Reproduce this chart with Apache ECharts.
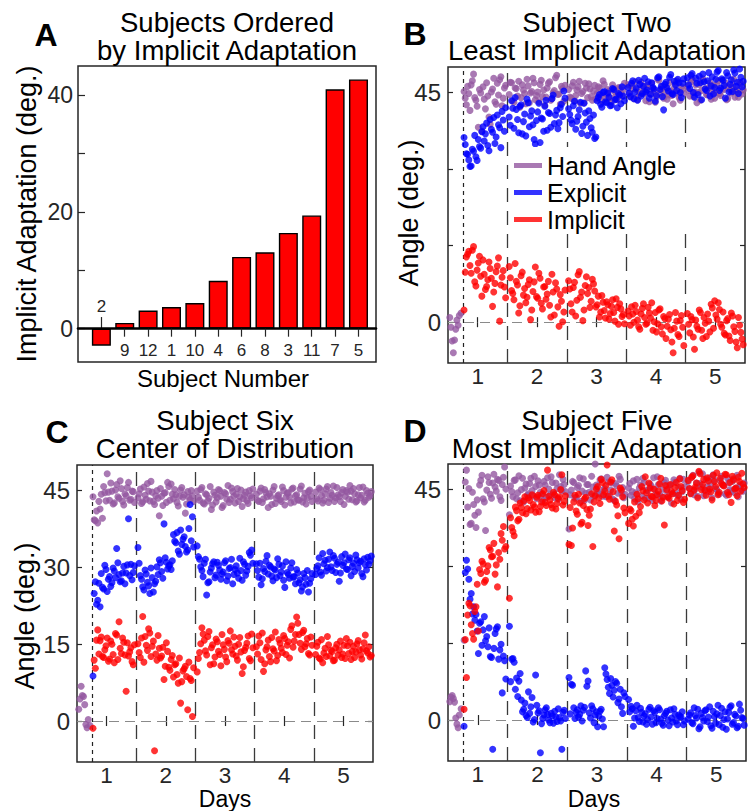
<!DOCTYPE html>
<html><head><meta charset="utf-8">
<script src="https://cdn.jsdelivr.net/npm/echarts@6/dist/echarts.min.js"></script>
<style>html,body{margin:0;padding:0;background:#fff}#c{width:752px;height:811px}</style>
</head><body><div id="c"></div>
<script>
// ---------- Panel A data ----------
const subjects = ['2','9','12','1','10','4','6','8','3','11','7','5'];
const implicitAdaptation = [-2.9, 1.0, 3.1, 3.7, 4.4, 8.2, 12.3, 13.1, 16.4, 19.4, 41.0, 42.7];
const barTicksA = [0, 10, 20, 30, 40];
const barLabelsA = [0, 20, 40];

// ---------- shared time axis ----------
const dayTicks = [1, 2, 3, 4, 5];
const angleTicks = [0, 15, 30, 45];
const dayBoundaries = [1.5, 2.5, 3.5, 4.5];
const rotationOnset = 0.75;
const baselineDays = [0.53,0.55,0.57,0.59,0.61,0.63,0.65,0.67,0.69,0.72];
const trialDays = [
 0.77,0.81,0.85,0.89,0.93,0.97,1.01,1.05, 1.09,1.13,1.17,1.21,1.25,1.29,1.33,1.37, 1.41,1.45,
 1.53,1.57,1.61,1.65,1.69,1.73,1.77,1.81, 1.85,1.89,1.93,1.97,2.01,2.05,2.09,2.13, 2.17,2.21,2.25,2.29,2.33,2.37,2.41,2.45,
 2.53,2.57,2.61,2.65,2.69,2.73,2.77,2.81, 2.85,2.89,2.93,2.97,3.01,3.05,3.09,3.13, 3.17,3.21,3.25,3.29,3.33,3.37,3.41,3.45,
 3.53,3.57,3.61,3.65,3.69,3.73,3.77,3.81, 3.85,3.89,3.93,3.97,4.01,4.05,4.09,4.13, 4.17,4.21,4.25,4.29,4.33,4.37,4.41,4.45,
 4.53,4.57,4.61,4.65,4.69,4.73,4.77,4.81, 4.85,4.89,4.93,4.97,5.01,5.05,5.09,5.13, 5.17,5.21,5.25,5.29,5.33,5.37,5.41,5.45
];
const trialDays2 = [
 0.79,0.83,0.87,0.91,0.95,0.99,1.03,1.07, 1.11,1.15,1.19,1.23,1.27,1.31,1.35,1.39, 1.43,1.47,
 1.55,1.59,1.63,1.67,1.71,1.75,1.79,1.83, 1.87,1.91,1.95,1.99,2.03,2.07,2.11,2.15, 2.19,2.23,2.27,2.31,2.35,2.39,2.43,2.47,
 2.55,2.59,2.63,2.67,2.71,2.75,2.79,2.83, 2.87,2.91,2.95,2.99,3.03,3.07,3.11,3.15, 3.19,3.23,3.27,3.31,3.35,3.39,3.43,3.47,
 3.55,3.59,3.63,3.67,3.71,3.75,3.79,3.83, 3.87,3.91,3.95,3.99,4.03,4.07,4.11,4.15, 4.19,4.23,4.27,4.31,4.35,4.39,4.43,4.47,
 4.55,4.59,4.63,4.67,4.71,4.75,4.79,4.83, 4.87,4.91,4.95,4.99,5.03,5.07,5.11,5.15, 5.19,5.23,5.27,5.31,5.35,5.39,5.43,5.47
];

// ---------- Panel B: Subject Two ----------
const baselineHandB = [0.9, -1.0, -3.7, -6.0, -3.5, -1.4, 0.4, -0.6, 1.3, 1.8];
const handB = [
 45.2,42.6,44.8,46.5,48.6,43.5,38.2,44.9, 46.1,41.8,44.3,38.8,45.7,43.2,46.8,47.5, 42.4,45.9,
 44.6,46.9,43.1,45.8,47.2,44.0,45.5,42.8, 46.3,44.9,47.8,43.6,45.1,46.6,44.2,42.5, 45.9,47.1,43.8,45.4,48.4,44.7,46.2,43.3,
 45.6,43.9,47.0,44.4,46.1,42.9,45.2,46.8, 44.0,45.7,43.5,46.4,44.8,45.9,43.4,46.6, 44.6,45.3,43.2,45.8,44.4,46.0,44.9,45.5,
 46.5,44.2,45.8,47.1,43.6,45.0,46.3,44.7, 45.9,43.2,46.8,45.3,44.1,47.4,45.6,43.9, 46.0,44.5,45.2,42.8,46.7,44.9,43.5,45.7,
 46.2,44.3,47.5,45.1,43.0,46.6,45.4,47.2, 44.6,45.9,43.7,46.4,45.0,47.3,44.4,45.8, 46.9,43.8,45.5,46.3,44.1,45.6,47.0,44.7
];
const handB2 = [
 43.9,46.2,41.5,47.3,44.0,42.3,45.6,37.4, 43.7,46.9,40.2,45.1,47.8,42.7,44.5,48.1, 43.9,46.4,
 47.0,43.4,45.9,44.3,42.1,46.5,44.8,47.6, 43.0,45.2,46.9,44.4,43.2,47.4,45.5,44.1, 46.8,43.5,45.0,47.9,44.6,42.7,45.8,46.4,
 44.1,46.3,43.4,45.5,47.2,44.8,43.0,45.9, 46.7,44.2,45.3,43.7,46.1,44.5,47.3,43.9, 45.6,44.0,46.5,45.1,43.6,45.9,44.3,46.8,
 44.8,46.4,43.8,45.6,44.3,47.0,45.2,43.4, 46.5,44.6,45.8,43.1,47.6,44.9,46.2,45.0, 43.7,46.9,44.4,45.9,47.3,44.0,46.1,44.8,
 45.4,47.1,44.2,46.5,45.0,43.5,47.7,45.8, 44.5,46.9,45.3,43.9,46.4,44.8,47.4,45.6, 43.6,46.1,44.9,47.6,45.2,44.1,46.7,45.5
];
const explicitB = [
 36.2,33.0,31.8,30.6,33.5,32.4,35.8,34.1, 38.3,36.9,34.6,39.7,37.2,35.0,40.6,38.1, 41.3,37.4,
 40.2,43.4,38.0,41.7,37.1,42.6,39.3,36.5, 43.0,40.4,38.7,34.9,41.2,35.2,39.8,42.3, 37.6,40.9,43.8,38.9,41.5,39.1,42.7,45.3,
 41.8,39.6,42.4,37.8,40.3,43.1,38.4,41.0, 36.6,39.9,37.2,36.0,43.4,44.6,42.1,45.2, 43.0,44.1,42.5,45.6,43.7,44.8,42.8,44.3,
 46.0,44.2,47.3,45.1,43.5,46.6,44.8,47.8, 45.5,43.9,46.9,45.7,44.4,48.1,46.2,41.6, 47.0,45.3,48.5,44.6,46.5,47.6,45.0,46.8,
 47.9,45.8,48.7,44.1,46.8,48.2,43.6,47.1, 45.4,48.9,46.3,44.7,47.6,49.3,45.9,47.4, 43.9,48.3,46.6,45.2,48.8,47.0,49.6,46.1
];
const explicitB2 = [
 34.8,32.9,30.5,33.9,36.6,31.7,34.4,37.3, 35.5,39.0,33.6,37.8,40.1,36.3,38.7,34.2, 39.6,42.0,
 38.6,41.9,44.0,39.7,42.3,36.9,40.8,43.7, 38.3,41.4,35.8,39.5,42.9,40.0,37.4,43.5, 41.1,38.2,44.5,40.6,37.9,42.0,40.3,43.9,
 40.7,38.9,43.3,39.4,41.6,37.0,42.9,39.2, 41.4,38.1,40.6,36.3,44.0,42.7,45.0,43.2, 44.9,42.4,45.8,43.6,42.0,44.5,46.1,43.4,
 44.9,46.8,43.8,45.9,47.4,44.3,46.2,45.1, 47.1,44.7,46.0,43.3,47.9,45.6,44.2,46.6, 45.9,48.0,44.8,47.2,45.4,46.9,44.0,47.7,
 46.5,48.4,45.0,47.8,44.6,46.9,48.6,45.7, 47.3,44.3,48.1,46.0,49.0,45.4,47.7,46.4, 48.9,45.1,47.5,49.4,46.2,44.8,48.0,47.2
];
const implicitB = [
 2.4,12.8,13.9,9.6,14.8,7.1,11.6,9.0, 12.2,6.4,8.3,10.5,3.1,7.6,11.0,0.2, 8.8,6.9,
 10.9,6.2,4.4,8.0,1.8,9.1,5.3,3.8, 7.4,0.5,6.0,10.8,4.7,8.6,2.6,7.0, 5.5,3.3,9.4,1.4,6.5,-0.8,4.1,2.0,
 8.1,3.6,6.8,1.2,9.3,4.9,0.3,7.2, 5.6,2.9,8.4,6.1,3.4,1.0,5.2,2.3, 4.0,0.6,3.1,1.9,4.6,-0.4,2.6,1.5,
 2.2,-0.6,1.6,3.3,0.4,-1.4,2.7,0.9, -0.2,1.8,3.8,0.1,-1.9,2.4,-0.9,1.1, -3.2,0.6,-1.5,-6.0,1.9,-2.4,0.3,-1.0,
 1.7,-2.1,0.5,-5.3,-0.8,2.4,-1.6,0.9, -2.8,0.2,3.5,-1.2,1.4,3.8,-0.4,2.0, -2.5,0.7,-3.6,1.2,-1.8,-5.0,-0.6,-3.3
];
const implicitB2 = [
 9.8,13.3,11.1,14.1,7.9,10.2,12.9,5.1, 9.4,7.0,11.8,8.6,5.9,9.9,12.6,7.3, 10.1,4.8,
 8.7,5.6,11.5,7.3,3.2,9.8,6.6,4.9, 8.3,2.4,7.9,5.0,9.6,3.7,6.9,4.5, 8.0,1.0,5.9,7.7,3.0,5.4,0.1,6.3,
 6.5,2.0,7.8,4.3,9.9,5.9,2.4,8.9, 6.8,4.1,7.5,3.0,5.1,2.0,3.9,0.8, 3.4,1.7,4.4,0.2,2.9,3.6,1.1,-0.3,
 1.2,3.0,0.0,2.1,-0.9,1.6,3.6,-0.4, 2.9,0.8,-1.6,1.9,-0.3,2.6,-2.3,0.7, -0.8,1.5,-3.9,-1.2,0.2,-2.8,1.3,-4.6,
 -0.4,1.1,-2.9,0.4,-1.4,1.9,-3.2,-0.2, 1.6,-1.9,2.8,4.2,0.6,2.5,-1.0,-2.2, 0.3,-2.7,1.8,-0.9,-3.9,0.9,-2.0,-4.4
];

// ---------- Panel C: Subject Six ----------
const baselineHandC = [2.3, 4.3, 6.8, 5.0, 4.8, 3.2, -0.7, -1.3, 0.3, -0.9];
const handC = [
 43.8,39.1,38.7,41.4,39.6,44.6,48.3,43.1, 44.9,42.6,46.2,43.5,45.4,42.2,44.0,46.6, 43.3,44.8,
 43.6,45.3,42.8,44.1,46.4,43.0,44.7,42.3, 45.0,40.1,43.9,44.5,42.7,45.8,46.3,43.4, 44.2,42.0,45.1,43.7,40.6,44.8,43.2,44.0,
 44.9,43.1,45.6,42.4,44.2,43.5,41.3,44.7, 42.8,45.2,43.9,42.1,44.4,46.0,43.3,44.8, 42.6,45.4,43.8,41.9,44.1,43.0,45.0,43.6,
 44.3,42.9,45.5,43.4,44.6,41.7,43.9,45.1, 42.5,44.0,43.2,45.7,42.2,44.5,43.7,45.3, 42.8,44.2,43.1,45.9,43.6,42.4,44.8,43.9,
 44.7,43.0,45.2,42.6,44.4,45.8,43.5,44.1, 42.9,45.6,43.8,44.6,42.3,45.0,43.3,44.9, 45.4,42.8,44.2,43.6,45.7,43.1,44.5,44.0
];
const handC2 = [
 39.3,41.0,42.9,44.3,45.8,43.0,44.7,46.5, 42.4,45.1,43.8,46.9,42.9,44.4,45.6,43.1, 44.9,42.7,
 44.4,42.5,45.7,43.3,44.9,46.8,42.9,44.0, 43.5,45.4,42.1,44.6,46.6,43.1,44.3,45.2, 42.7,43.9,45.6,44.2,42.4,43.7,45.0,42.9,
 43.7,45.2,42.6,44.4,43.0,45.8,42.2,44.1, 43.6,45.0,41.7,44.6,43.3,42.7,45.5,43.9, 44.3,42.9,45.1,43.4,44.7,42.5,44.0,45.3,
 43.1,44.9,42.7,45.2,43.8,44.4,42.3,45.8, 43.5,44.2,42.9,45.0,43.7,44.6,42.6,45.5, 44.0,43.2,45.3,42.8,44.5,43.6,45.1,42.9,
 43.4,45.5,44.0,43.1,45.3,42.7,44.6,45.9, 43.6,44.2,42.9,45.2,43.9,44.7,46.0,43.2, 44.4,43.0,45.6,44.1,42.8,45.0,43.7,44.8
];
const explicitC = [
 8.8,27.2,23.6,22.3,26.1,30.4,25.3,28.2, 27.0,29.3,33.7,28.6,27.4,30.2,28.9,39.5, 30.6,29.0,
 33.9,28.4,26.2,29.5,27.1,24.9,28.0,26.8, 30.1,31.5,29.2,38.5,31.0,30.3,29.6,36.4, 34.8,33.2,37.3,35.5,34.1,33.4,42.3,39.9,
 34.2,31.6,29.4,30.8,24.6,27.2,29.9,31.1, 28.5,30.4,27.7,29.1,31.3,28.3,30.0,26.8, 29.6,28.9,31.8,27.5,30.6,29.3,32.9,33.4,
 30.7,28.1,26.6,29.8,31.2,28.7,30.1,27.4, 29.5,31.7,28.4,30.3,26.1,29.0,27.9,30.9, 28.2,29.6,27.0,25.4,28.8,26.7,25.2,27.8,
 28.6,30.3,29.1,32.7,31.4,30.0,33.0,29.4, 31.8,30.6,27.3,32.1,30.9,29.7,31.5,28.4, 30.8,32.4,29.9,31.2,28.2,30.5,32.0,31.3
];
const explicitC2 = [
 24.9,22.8,26.9,28.8,25.8,29.6,27.7,26.3, 29.9,28.0,30.9,27.2,28.9,26.8,30.5,28.4, 27.6,30.3,
 30.8,27.7,25.6,28.7,26.4,29.9,25.2,27.3, 28.6,30.9,27.9,31.9,29.7,30.5,31.3,35.1, 36.8,32.6,34.5,36.0,33.0,37.6,35.2,34.0,
 32.1,30.1,28.2,31.6,27.0,29.1,30.7,28.0, 31.0,29.5,28.7,30.9,27.4,29.8,31.6,28.6, 30.3,27.9,29.4,31.1,28.5,30.2,32.4,30.8,
 29.4,30.8,27.8,29.2,32.3,30.4,28.3,29.7, 28.0,30.6,29.1,27.5,31.1,28.6,29.9,28.1, 26.8,28.9,27.6,26.2,28.0,29.4,26.9,28.8,
 29.8,31.9,28.5,30.7,29.3,31.6,30.1,32.3, 29.0,31.0,28.9,30.4,32.6,29.6,31.9,30.2, 29.2,31.5,30.9,28.8,31.7,29.5,30.6,32.2
];
const implicitC = [
 -1.4,10.3,17.8,15.7,12.6,13.9,16.2,12.1, 15.0,11.4,16.8,19.4,13.2,15.4,5.8,12.7, 14.3,11.0,
 15.1,12.4,20.4,16.5,13.8,17.2,14.6,-5.8, 11.9,14.2,12.7,8.1,15.3,10.5,12.0,8.6, 11.2,7.4,3.5,9.8,10.7,2.2,8.3,0.9,
 9.6,13.4,18.2,15.8,12.9,17.5,14.3,11.2, 16.0,13.6,10.8,14.9,12.5,15.7,17.6,13.1, 14.6,11.9,16.3,9.3,13.8,15.2,12.2,17.0,
 14.5,16.6,12.0,9.7,13.9,15.8,11.6,14.1, 17.4,12.8,15.2,13.4,16.1,14.8,12.3,18.6, 15.6,20.3,16.9,14.0,17.7,15.1,13.2,16.4,
 13.0,15.4,12.1,11.4,14.2,16.5,12.7,13.6, 11.9,15.0,13.9,12.4,14.8,16.1,13.2,12.0, 14.6,13.5,15.7,12.9,14.1,16.8,13.3,12.5
];
const implicitC2 = [
 11.9,15.8,13.1,16.4,12.4,14.7,11.7,15.6, 13.0,17.1,12.0,14.2,16.2,12.9,15.3,13.5, 11.6,14.9,
 13.4,16.2,11.5,14.8,18.0,12.6,15.6,13.1, 16.7,12.3,14.4,10.7,13.6,9.9,12.8,11.0, 9.1,12.3,7.7,10.2,8.7,11.5,7.9,10.4,
 12.2,15.1,17.0,13.7,16.5,11.0,14.9,12.5, 15.5,13.0,16.9,14.0,11.6,15.2,13.9,16.4, 12.7,15.0,13.5,10.6,14.4,16.6,11.8,14.3,
 13.1,15.3,17.2,11.2,14.5,12.6,16.3,13.7, 11.8,15.9,14.2,16.7,13.0,15.5,17.9,14.4, 16.9,19.1,15.2,17.3,14.5,16.1,12.9,14.8,
 14.6,12.3,15.9,13.3,12.6,14.9,13.8,11.8, 14.3,12.9,15.6,13.1,12.2,14.7,15.4,13.6, 12.4,15.1,13.9,12.1,15.3,13.7,14.5,12.8
];

// ---------- Panel D: Subject Five ----------
const baselineHandD = [3.6, 4.5, 4.8, 4.2, 3.5, 0.4, -0.8, -1.5, 1.0, 2.2];
const handD = [
 15.6,48.8,45.2,38.4,42.1,37.6,40.6,46.8, 43.2,37.0,47.5,44.1,46.3,45.5,47.0,43.6, 46.0,49.4,
 40.1,44.6,46.8,43.2,47.7,45.0,42.6,46.1, 44.2,47.2,43.8,45.6,46.7,44.5,42.9,45.9, 47.3,44.0,46.4,43.4,45.2,47.9,44.8,46.0,
 37.3,44.9,46.4,43.5,45.8,42.7,47.1,44.3, 46.0,43.0,45.5,50.0,44.6,46.9,43.7,45.2, 47.4,44.0,46.3,42.9,45.7,47.6,44.4,43.4,
 45.3,43.9,46.7,44.4,42.6,45.9,47.2,43.3, 44.8,46.1,42.9,45.0,47.5,44.1,43.6,46.4, 44.7,45.8,42.4,46.9,44.2,45.4,43.1,47.0,
 46.6,44.3,47.8,45.1,43.7,46.2,48.1,44.8, 45.6,47.3,43.4,46.9,45.0,44.1,47.6,45.8, 43.9,46.4,44.6,47.1,45.3,43.6,46.0,44.7
];
const handD2 = [
 46.5,41.6,38.2,44.5,40.0,43.0,45.9,47.8, 42.6,44.9,46.4,43.3,48.0,44.7,46.8,42.9, 47.4,45.1,
 45.7,43.6,46.9,44.4,42.8,47.2,45.3,43.9, 46.2,44.8,47.6,43.2,45.9,44.1,46.6,43.5, 45.1,47.5,44.2,46.3,43.1,45.6,47.0,44.6,
 44.0,46.6,43.3,45.4,47.3,44.7,42.9,46.0, 44.5,47.6,43.8,45.9,44.2,47.1,45.0,43.6, 46.5,44.9,43.1,46.2,44.3,47.0,45.4,44.1,
 46.2,44.6,43.2,47.0,45.3,43.8,46.4,44.9, 43.3,45.7,47.3,44.0,46.0,42.8,45.1,46.8, 43.5,45.9,44.3,46.5,43.9,47.2,44.6,45.6,
 45.2,47.4,44.0,46.3,48.4,45.5,43.8,47.0, 44.6,46.0,47.9,45.2,44.3,46.7,45.9,44.2, 47.2,45.0,46.6,44.4,47.8,45.7,44.9,46.3
];
const explicitD = [
 -1.2,31.2,27.5,24.7,22.1,20.6,13.0,19.2, 17.6,15.5,14.3,12.4,-5.7,16.9,18.2,13.7, 5.3,11.6,
 18.3,11.9,11.3,8.2,7.6,3.9,2.1,0.9, 5.5,2.6,-0.4,8.8,1.4,-6.4,0.3,2.0, 1.1,-0.5,0.8,1.7,-0.3,0.5,-5.7,1.9,
 8.3,7.0,2.4,1.5,0.6,2.8,1.9,9.6, 7.6,0.4,2.2,1.0,-1.3,1.7,0.2,10.2, 7.9,5.2,6.8,5.8,7.2,4.1,2.6,5.3,
 4.0,2.7,-1.2,1.8,0.5,2.3,-0.4,1.2, 0.1,2.5,-0.8,1.5,0.3,2.0,-0.6,0.9, 1.7,-1.1,0.4,2.2,-0.2,1.0,0.6,-0.9,
 0.2,1.4,-0.7,0.9,2.1,-1.3,0.5,1.8, -0.3,2.6,-1.6,0.7,1.2,-0.9,2.3,0.1, -1.8,1.5,2.8,-0.5,0.8,-1.2,1.9,0.3
];
const explicitD2 = [
 28.8,29.5,23.6,20.7,19.5,17.4,18.9,14.6, 20.2,16.3,18.0,12.2,14.0,17.8,11.9,14.8, 12.5,8.0,
 7.5,12.0,6.0,4.6,9.1,1.6,3.3,0.5, 1.3,4.4,0.1,2.9,1.8,-0.7,1.0,2.4, 0.0,1.3,-0.6,0.6,2.2,-0.2,1.5,0.3,
 1.2,6.8,0.3,2.0,1.1,-0.2,2.5,6.6, 1.4,2.8,-0.5,1.6,0.8,2.1,-1.3,9.0, 6.4,8.1,4.5,7.5,3.4,6.0,1.3,4.6,
 1.6,2.2,0.4,2.9,-0.3,1.5,0.8,-0.8, 2.1,0.6,1.8,-0.5,2.4,0.2,-1.0,1.3, 0.0,2.0,-0.4,1.1,-0.9,0.7,1.6,-0.2,
 1.0,-0.5,2.4,0.4,-1.7,1.3,-0.2,2.0, 0.6,-1.1,1.7,-0.6,2.9,0.9,-1.4,1.6, 0.2,2.5,-0.8,1.1,-1.5,3.1,0.5,-1.0
];
const implicitD = [
 2.1,8.3,22.8,18.6,15.8,22.1,17.4,28.6, 30.5,27.3,30.1,33.2,32.0,28.5,26.0,31.4, 35.1,33.4,
 23.8,37.6,36.0,40.9,39.2,41.5,42.8,40.3, 43.4,41.0,42.1,40.6,43.9,41.7,44.2,42.5, 48.8,43.0,41.4,44.0,42.3,43.6,47.9,42.7,
 34.3,34.1,42.6,40.8,44.1,38.3,41.9,43.5, 38.0,41.2,33.9,43.8,45.6,42.3,46.4,44.7, 49.8,43.1,46.9,36.9,42.0,35.4,44.9,41.4,
 38.4,40.9,37.9,39.8,43.2,41.7,44.8,47.5, 42.4,45.3,43.6,41.9,44.0,46.1,42.8,38.1, 45.0,43.3,44.6,42.2,46.4,43.9,45.6,42.5,
 46.8,44.2,47.7,45.5,43.4,48.1,46.0,44.9, 47.3,45.1,43.0,46.6,48.3,44.5,46.2,45.7, 47.9,44.0,42.5,46.9,45.3,47.4,44.7,46.1
];
const implicitD2 = [
 15.7,20.5,22.3,16.9,21.2,26.5,29.4,31.0, 26.9,29.0,33.7,31.9,34.5,30.3,32.7,36.4, 37.8,33.9,
 39.5,36.8,41.6,38.9,42.4,40.5,43.6,41.3, 42.9,44.0,41.6,43.5,40.7,42.6,44.8,41.9, 43.7,42.1,44.5,41.2,43.3,45.0,42.0,43.8,
 41.5,37.5,43.9,40.2,42.4,38.6,43.2,41.1, 40.0,44.2,42.6,45.1,43.4,47.0,44.0,45.8, 43.7,46.5,44.6,42.7,39.9,45.3,43.6,40.5,
 41.2,39.2,42.6,44.1,40.5,45.6,43.0,44.4, 46.3,43.7,45.1,42.9,44.7,47.2,43.5,45.8, 43.6,46.0,44.2,45.4,42.9,47.1,44.8,43.1,
 45.2,47.4,44.9,46.3,48.6,45.0,47.0,43.9, 46.7,44.6,47.8,45.6,44.0,47.2,45.9,48.0, 44.5,46.4,47.6,45.1,43.8,46.6,48.2,45.4
];

// ---------- styling ----------
const FONT = '"Liberation Sans", Arial, sans-serif';
const INK = '#262626';
const PURPLE = '#9458A0', BLUE = '#0000FF', RED = '#FF0000';

const chart = echarts.init(document.getElementById('c'), null, {renderer: 'svg'});
const pairs = (xs, ys) => xs.map((x, i) => [x, ys[i]]);

const grids = [
  {left: 78, top: 66, width: 298, height: 296},
  {left: 448, top: 67, width: 297, height: 296},
  {left: 77, top: 465, width: 296, height: 297},
  {left: 448, top: 464, width: 298, height: 297}
].map(g => Object.assign({show: true, borderColor: INK, borderWidth: 1.5, backgroundColor: 'transparent', containLabel: false}, g));

const xAxes = [], yAxes = [], series = [];
const barPositions = subjects.map((s, i) => i + 1);

// Panel A axes: the category axis sits on the zero line
xAxes.push({
  gridIndex: 0, type: 'value', min: 0, max: 12.75, z: 5,
  position: 'bottom', offset: -33.3,
  axisLine: {show: true, onZero: false, lineStyle: {color: '#000', width: 2.6}},
  axisTick: {show: true, customValues: barPositions.slice(1), length: 8, lineStyle: {color: INK, width: 1.2}},
  axisLabel: {show: true, customValues: barPositions.slice(1), formatter: v => subjects[v - 1] || '', fontSize: 17, color: INK, fontFamily: FONT, margin: 13},
  splitLine: {show: false}
});
yAxes.push({
  gridIndex: 0, type: 'value', min: -5.7, max: 45,
  axisLine: {show: false},
  axisTick: {show: true, inside: true, customValues: barTicksA, length: 7, lineStyle: {color: INK, width: 1.2}},
  axisLabel: {show: true, customValues: barLabelsA, fontSize: 23, color: INK, fontFamily: FONT, margin: 5},
  splitLine: {show: false}
});
series.push({
  type: 'bar', xAxisIndex: 0, yAxisIndex: 0, silent: true, animation: false,
  data: pairs(barPositions, implicitAdaptation),
  barWidth: 19,
  itemStyle: {color: RED, borderColor: '#000', borderWidth: 1.4},
  markLine: {
    silent: true, symbol: 'none', animation: false,
    lineStyle: {color: INK, width: 1.2, type: 'solid'},
    label: {show: true, position: 'end', formatter: subjects[0], fontSize: 17, color: INK, fontFamily: FONT, distance: 2},
    data: [[{coord: [1, 0]}, {coord: [1, 2.0]}]]
  }
});

function scatterPanel(gi, baseHand, hand, hand2, explicit, explicit2, implicit, implicit2, labelled) {
  const xi = xAxes.length, yi = yAxes.length;
  const tick = {show: true, inside: true, length: 5, lineStyle: {color: INK, width: 1.2}};
  xAxes.push({
    gridIndex: gi, type: 'value', min: 0.5, max: 5.5,
    axisLine: {show: false},
    axisTick: Object.assign({customValues: dayTicks}, tick),
    axisLabel: {show: true, customValues: dayTicks, fontSize: 22.5, color: INK, fontFamily: FONT, margin: 2},
    splitLine: {show: false}
  });
  xAxes.push({
    gridIndex: gi, type: 'value', min: 0.5, max: 5.5, position: 'top',
    axisLine: {show: false}, axisTick: Object.assign({customValues: dayTicks}, tick),
    axisLabel: {show: false}, splitLine: {show: false}
  });
  yAxes.push({
    gridIndex: gi, type: 'value', min: -8, max: 50,
    axisLine: {show: false}, axisTick: Object.assign({customValues: angleTicks}, tick),
    axisLabel: {show: true, customValues: labelled, fontSize: 24, color: INK, fontFamily: FONT, margin: 7},
    splitLine: {show: false}
  });
  yAxes.push({
    gridIndex: gi, type: 'value', min: -8, max: 50, position: 'right',
    axisLine: {show: false}, axisTick: Object.assign({customValues: angleTicks}, tick),
    axisLabel: {show: false}, splitLine: {show: false}
  });
  const mlData = dayBoundaries.map(d => ({xAxis: d, lineStyle: {type: [14, 9], color: '#3a3a3a', width: 1.3}}))
    .concat([{xAxis: rotationOnset, lineStyle: {type: [4, 4], color: '#222', width: 1.2}},
             {yAxis: 0, lineStyle: {type: [10, 6], color: '#8a8a8a', width: 1.2}}]);
  series.push({
    type: 'line', xAxisIndex: xi, yAxisIndex: yi, data: [], silent: true, animation: false, z: 1,
    markLine: {silent: true, z: 1, symbol: 'none', animation: false, label: {show: false}, data: mlData}
  });
  const common = {type: 'scatter', xAxisIndex: xi, yAxisIndex: yi, symbolSize: 7, silent: true, animation: false, z: 2};
  series.push(Object.assign({}, common, {name: 'Hand Angle', itemStyle: {color: PURPLE},
    data: pairs(baselineDays, baseHand).concat(pairs(trialDays, hand), pairs(trialDays2, hand2))}));
  series.push(Object.assign({}, common, {name: 'Explicit', itemStyle: {color: BLUE},
    data: pairs(trialDays, explicit).concat(pairs(trialDays2, explicit2))}));
  series.push(Object.assign({}, common, {name: 'Implicit', itemStyle: {color: RED},
    data: pairs(trialDays, implicit).concat(pairs(trialDays2, implicit2))}));
}
scatterPanel(1, baselineHandB, handB, handB2, explicitB, explicitB2, implicitB, implicitB2, [0, 45]);
scatterPanel(2, baselineHandC, handC, handC2, explicitC, explicitC2, implicitC, implicitC2, [0, 15, 30, 45]);
scatterPanel(3, baselineHandD, handD, handD2, explicitD, explicitD2, implicitD, implicitD2, [0, 45]);

function txt(x, y, text, size, opts) {
  opts = opts || {};
  const el = {type: 'text', x: x, y: y, silent: true,
    style: {text: text, fontSize: size, fontFamily: FONT, fontWeight: opts.bold ? 'bold' : 'normal',
            fill: '#000', align: 'center', verticalAlign: 'middle', lineHeight: opts.lineHeight || 28}};
  if (opts.rotation) el.rotation = opts.rotation;
  return el;
}

const graphics = [
  txt(227, 36, 'Subjects Ordered\nby Implicit Adaptation', 27.5),
  txt(597, 36, 'Subject Two\nLeast Implicit Adaptation', 27.5),
  txt(225, 434, 'Subject Six\nCenter of Distribution', 27.5),
  txt(597, 434, 'Subject Five\nMost Implicit Adaptation', 27.5),
  txt(46, 35, 'A', 32, {bold: true}),
  txt(415, 34, 'B', 32, {bold: true}),
  txt(57, 432, 'C', 32, {bold: true}),
  txt(415, 431, 'D', 32, {bold: true}),
  txt(27, 214, 'Implicit Adaptation (deg.)', 27, {rotation: Math.PI / 2}),
  txt(409, 213, 'Angle (deg.)', 27, {rotation: Math.PI / 2}),
  txt(25, 616, 'Angle (deg.)', 27, {rotation: Math.PI / 2}),
  txt(223, 378, 'Subject Number', 24),
  txt(225, 799, 'Days', 23, {lineHeight: 20}),
  txt(594, 799, 'Days', 23, {lineHeight: 20})
];

chart.setOption({
  animation: false,
  backgroundColor: '#fff',
  textStyle: {fontFamily: FONT},
  grid: grids,
  xAxis: xAxes,
  yAxis: yAxes,
  legend: {
    left: 510, top: 147, orient: 'vertical', padding: [6, 10, 0, 4], itemGap: 2, z: 10,
    backgroundColor: '#fff',
    itemWidth: 28, itemHeight: 5, icon: 'rect', selectedMode: false,
    data: ['Hand Angle', 'Explicit', 'Implicit'],
    textStyle: {fontSize: 25, color: '#000', fontFamily: FONT, lineHeight: 24}
  },
  series: series,
  graphic: graphics
});
</script>
</body></html>
